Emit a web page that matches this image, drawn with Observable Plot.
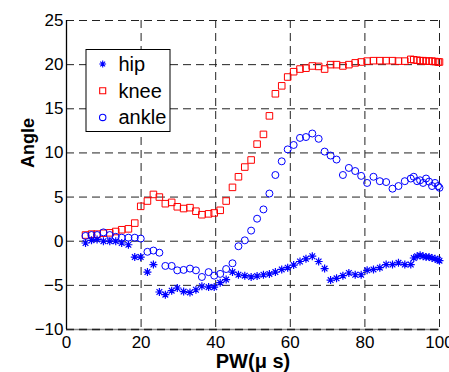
<!DOCTYPE html>
<html>
<head>
<meta charset="utf-8">
<script src="https://cdn.jsdelivr.net/npm/d3@7"></script>
<script src="https://cdn.jsdelivr.net/npm/@observablehq/plot@0.6"></script>
<style>
  html, body { margin: 0; padding: 0; background: #fff; overflow: hidden; }
  #chart { width: 449px; height: 372px; }
</style>
</head>
<body>
<div id="chart"></div>
<script>
// ---- data ----
const pw = [5.1, 6.7, 8.2, 9.9, 11.6, 13.2, 14.8, 16.6, 18.3, 19.9,
  21.7, 23.3, 24.9, 26.5, 28.2, 29.7, 31.4, 33.1, 34.7, 36.3,
  38.1, 39.6, 41.2, 42.8, 44.5, 46.1, 47.8, 49.5, 51.1, 52.8,
  54.4, 56.0, 57.7, 59.3, 60.9, 62.6, 64.2, 65.9, 67.6, 69.2,
  70.8, 72.4, 74.1, 75.7, 77.4, 79.0, 80.6, 82.3, 84.0, 85.7,
  87.4, 89.0, 90.7, 92.3, 93.1, 94.0, 94.8, 95.6, 96.4, 97.2,
  98.0, 98.8, 99.6, 100.0];
const hip = [-0.2, 0.1, 0.2, 0.0, 0.0, 0.0, -0.2, -0.4, -1.8, -1.8,
  -3.5, -2.65, -5.75, -6.05, -5.6, -5.3, -5.7, -5.8, -5.5, -5.1,
  -5.2, -5.2, -4.7, -4.35, -3.5, -3.8, -3.9, -4.05, -3.95, -3.8,
  -3.7, -3.5, -3.2, -3.0, -2.7, -2.3, -2.0, -1.7, -2.3, -3.1,
  -4.4, -4.2, -3.9, -3.6, -3.8, -3.8, -3.3, -3.2, -3.0, -2.65,
  -2.65, -2.45, -2.65, -2.65, -1.9, -1.7, -1.6, -1.7, -1.8, -1.8,
  -1.9, -2.0, -2.1, -2.2];
const knee = [0.7, 0.8, 0.8, 0.9, 0.95, 1.1, 1.3, 1.4, 2.05, 3.95,
  4.55, 5.3, 5.0, 4.25, 4.4, 3.9, 3.7, 3.8, 3.4, 3.0,
  3.1, 3.2, 3.5, 4.55, 6.1, 7.3, 8.4, 9.2, 11.0, 12.1,
  14.2, 16.7, 17.6, 18.6, 19.2, 19.5, 19.6, 19.85, 19.8, 19.5,
  20.0, 20.0, 19.85, 20.0, 20.2, 20.3, 20.4, 20.45, 20.45, 20.45,
  20.45, 20.4, 20.4, 20.6, 20.55, 20.5, 20.45, 20.45, 20.4, 20.4,
  20.4, 20.35, 20.3, 20.3];
const ankle = [0.6, 0.7, 0.7, 1.0, 0.7, 0.5, 0.4, 0.4, 0.4, 0.3,
  -1.2, -1.06, -1.3, -2.8, -2.8, -3.3, -3.25, -3.1, -3.3, -4.05,
  -3.5, -3.9, -3.7, -3.15, -2.5, -0.57, 0.1, 1.2, 2.55, 3.6,
  5.4, 7.5, 9.05, 10.4, 10.9, 11.7, 11.8, 12.2, 11.6, 10.15,
  9.7, 9.25, 7.5, 8.3, 7.95, 7.4, 6.6, 7.3, 6.8, 6.7,
  5.95, 6.25, 6.8, 7.1, 7.3, 6.8, 6.9, 6.6, 7.1, 6.75,
  6.25, 6.6, 6.25, 6.05];
const seriesNames = ["hip", "knee", "ankle"];
const xTicks = [0, 20, 40, 60, 80, 100];
const yTicks = [-10, -5, 0, 5, 10, 15, 20, 25];
const xLabel = "PW(\u03bc s)";
const yLabel = "Angle";

// ---- styles ----
const BLUE = "#0000ff", RED = "#ff0000";
const FONT = "'Liberation Sans', Arial, Helvetica, sans-serif";
const asterisk8 = {
  draw(ctx, size) {
    const r = Math.sqrt(size / Math.PI);
    const d = r * Math.SQRT1_2;
    ctx.moveTo(-r, 0); ctx.lineTo(r, 0);
    ctx.moveTo(0, -r); ctx.lineTo(0, r);
    ctx.moveTo(-d, -d); ctx.lineTo(d, d);
    ctx.moveTo(-d, d); ctx.lineTo(d, -d);
  }
};

const rows = (ys) => pw.map((x, i) => ({x, y: ys[i]}));
const dashed = "8,5";

const plot = Plot.plot({
  width: 449,
  height: 372,
  marginLeft: 66,
  marginRight: 10,
  marginTop: 20,
  marginBottom: 43,
  style: {fontFamily: FONT, fontSize: "17px", background: "#fff", color: "#000", overflow: "visible"},
  x: {domain: [0, 100]},
  y: {domain: [-10, 25]},
  marks: [
    Plot.ruleX(xTicks, {stroke: "#222", strokeWidth: 1, strokeDasharray: dashed}),
    Plot.ruleY(yTicks, {stroke: "#222", strokeWidth: 1, strokeDasharray: dashed}),
    Plot.ruleY([-10], {stroke: "#888", strokeWidth: 1.5}),
    Plot.ruleY([-10], {stroke: "#222", strokeWidth: 1.5, strokeDasharray: dashed}),
    Plot.ruleX([0], {stroke: "#000", strokeWidth: 1.3}),
    Plot.axisX({ticks: xTicks, tickSize: 0, tickPadding: 6, label: null, fontSize: 17}),
    Plot.axisY({ticks: yTicks, tickSize: 0, tickPadding: 3, label: null, fontSize: 17}),
    Plot.dot(rows(knee), {x: "x", y: "y", symbol: "square", r: 3.7, stroke: RED, fill: "none", strokeWidth: 1}),
    Plot.dot(rows(ankle), {x: "x", y: "y", symbol: "circle", r: 3.5, stroke: BLUE, fill: "none", strokeWidth: 1}),
    Plot.dot(rows(hip), {x: "x", y: "y", symbol: asterisk8, r: 4, stroke: BLUE, fill: "none", strokeWidth: 1.2}),
    Plot.text([xLabel], {frameAnchor: "bottom", dy: 32, fontSize: 20, fontWeight: "bold", lineAnchor: "middle"}),
    Plot.text([yLabel], {frameAnchor: "left", rotate: -90, dx: -38, dy: -7, fontSize: 18, fontWeight: "bold", lineAnchor: "middle"})
  ]
});

// ---- legend (drawn on the same SVG) ----
const svg = d3.select(plot);
const lg = svg.append("g");
lg.append("rect").attr("x", 86).attr("y", 49.5).attr("width", 84).attr("height", 82)
  .attr("fill", "#fff").attr("stroke", "#000").attr("stroke-width", 1);
const legendSymbols = [
  {path: d3.symbol(asterisk8, Math.PI * 3.4 * 3.4)(), stroke: BLUE},
  {path: d3.symbol(d3.symbolSquare, Math.PI * 3.4 * 3.4)(), stroke: RED},
  {path: d3.symbol(d3.symbolCircle, Math.PI * 3.2 * 3.2)(), stroke: BLUE}
];
seriesNames.forEach((name, i) => {
  const cy = 64 + i * 26.7;
  lg.append("path").attr("d", legendSymbols[i].path).attr("transform", `translate(102.7,${cy})`)
    .attr("fill", "none").attr("stroke", legendSymbols[i].stroke).attr("stroke-width", 1.1);
  lg.append("text").attr("x", 118.5).attr("y", cy + 7).text(name)
    .attr("fill", "#000")
    .style("text-anchor", "start")
    .style("font-family", FONT)
    .style("font-size", "20px");
});

document.getElementById("chart").appendChild(plot);
</script>
</body>
</html>
